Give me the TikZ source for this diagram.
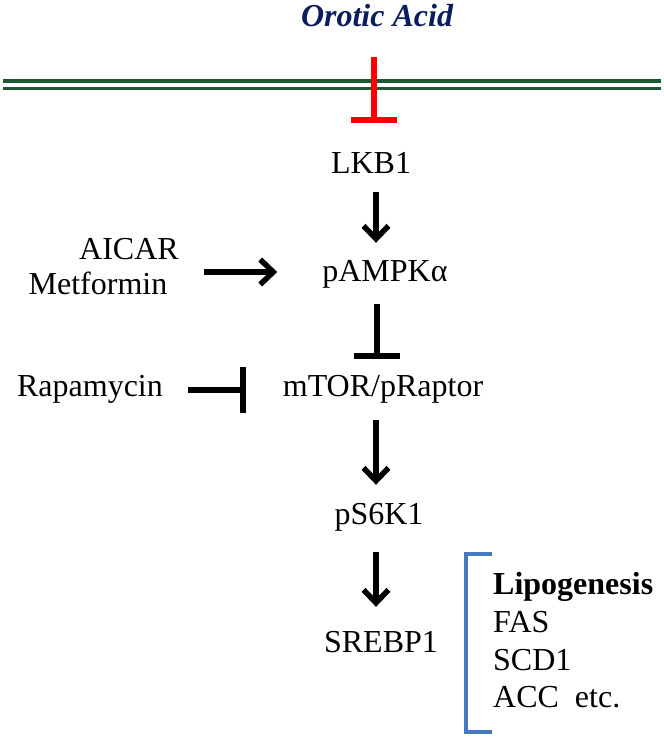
\documentclass[tikz,border=0pt]{standalone}
\usepackage{fontspec}
\setmainfont{Liberation Serif}
\usetikzlibrary{arrows.meta}
\definecolor{navy}{RGB}{10,30,95}
\definecolor{memgreen}{RGB}{28,88,52}
\definecolor{bracketblue}{RGB}{68,122,190}
\definecolor{inhred}{RGB}{255,0,0}
\begin{document}
\begin{tikzpicture}[x=1pt,y=-1pt,
  lbl/.style={inner sep=0pt, anchor=base, font=\fontsize{32}{36}\selectfont, text height=22pt, text depth=7pt},
  lst/.style={inner sep=0pt, anchor=base west, font=\fontsize{32}{36}\selectfont},
  act/.style={line width=5.5pt, -{Straight Barb[length=13pt,width=25pt,line width=5.5pt]}},
  inh/.style={line width=5.5pt, -{Bar[width=46pt,line width=5.5pt]}},
  membrane/.style={memgreen, line width=3.6pt}
]
\useasboundingbox (0,0) rectangle (664,739);

% membrane
\draw[membrane] (3,81) -- (661,81);
\draw[membrane] (3,88.5) -- (661,88.5);

% nodes
\node[inner sep=0pt, anchor=base, font=\fontsize{32}{36}\selectfont\bfseries\itshape, text=navy] (oa) at (377,26) {Orotic Acid};
\node[lbl] (lkb) at (371,173) {LKB1};
\node[lbl] (pampk) at (385,281) {pAMPKα};
\node[lbl] (aicar) at (129,259) {AICAR};
\node[lbl] (met) at (98,294) {Metformin};
\node[lbl] (rapa) at (90,396) {Rapamycin};
\node[lbl] (mtor) at (383,396) {mTOR/pRaptor};
\node[lbl] (ps6k) at (379,524) {pS6K1};
\node[lbl] (srebp) at (381,652) {SREBP1};

\node[lst, font=\fontsize{32}{36}\selectfont\bfseries] (lipo) at (493,594) {Lipogenesis};
\node[lst] (fas) at (493,632) {FAS};
\node[lst] (scd) at (493,670) {SCD1};
\node[lst] (acc) at (493,707) {ACC~~etc.};

% bracket
\draw[bracketblue, line width=3.6pt] (492,554) -- (466,554) -- (466,732) -- (492,732);

% connectors
\coordinate (colA) at (376,0);
\coordinate (colB) at (377,0);
\coordinate (rowM) at (0,272);
\coordinate (rowR) at (0,390);
\coordinate (orot) at (374,57);

\draw[inhred, line width=5.5pt, -{Bar[width=46pt,line width=5.5pt]}, shorten >=28pt] (orot) -- (orot |- lkb.north);
\draw[act, shorten <=12pt, shorten >=16pt] (colA |- lkb.south) -- (colA |- pampk.north);
\draw[act, shorten <=36pt, shorten >=45pt] (met.east |- rowM) -- (pampk.west |- rowM);
\draw[inh, shorten <=16pt, shorten >=15pt] (colB |- pampk.south) -- (colB |- mtor.north);
\draw[inh, shorten <=25pt, shorten >=37pt] (rapa.east |- rowR) -- (mtor.west |- rowR);
\draw[act, shorten <=17pt, shorten >=17pt] (colA |- mtor.south) -- (colA |- ps6k.north);
\draw[act, shorten <=21pt, shorten >=23pt] (colA |- ps6k.south) -- (colA |- srebp.north);
\end{tikzpicture}
\end{document}
